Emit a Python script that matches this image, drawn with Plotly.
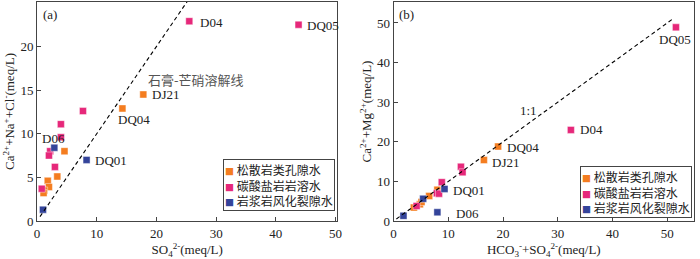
import plotly.graph_objects as go
from plotly.subplots import make_subplots

# ---------------- data ----------------
groups = ["松散岩类孔隙水", "碳酸盐岩岩溶水", "岩浆岩风化裂隙水"]
colors = ["#F47D20", "#E6287A", "#34449A"]

# panel (a): SO4 vs Ca+Na+Cl
a_so4 = [
    [4.6, 3.4, 1.8, 2.0, 1.2, 1.1, 14.3, 17.8],
    [7.7, 4.0, 4.0, 2.2, 2.0, 3.0, 0.8, 25.5, 43.8],
    [2.9, 8.3, 1.0],
]
a_cnc = [
    [8.0, 5.1, 4.6, 3.9, 3.5, 3.2, 12.9, 14.5],
    [12.6, 11.1, 9.6, 8.0, 7.5, 6.2, 3.7, 22.9, 22.5],
    [8.4, 7.0, 1.3],
]

# panel (b): HCO3+SO4 vs Ca+Mg
b_hs = [
    [3.7, 4.8, 5.1, 6.5, 8.0, 16.5, 19.1],
    [4.2, 7.9, 8.3, 8.8, 12.3, 12.6, 32.4, 51.6],
    [1.8, 5.4, 9.3, 8.0],
]
b_cm = [
    [3.4, 4.2, 4.8, 6.3, 7.9, 15.4, 18.8],
    [3.8, 7.0, 6.9, 9.8, 13.7, 12.3, 23.0, 48.9],
    [1.3, 5.6, 8.1, 2.2],
]

line_a = [0.5, 25.6]
line_b = [0.5, 51.3]

a_labels = ["D04", "DQ05", "DJ21", "DQ04", "D06", "DQ01"]
a_lab_x = [26.9, 44.8, 19.0, 16.3, 2.7, 9.4]
a_lab_y = [22.75, 22.4, 14.5, 11.65, 9.4, 6.95]
a_lab_anchor = ["left", "left", "left", "center", "center", "left"]

b_labels = ["DQ05", "D04", "DQ04", "DJ21", "DQ01", "D06"]
b_lab_x = [51.4, 33.7, 20.4, 17.7, 10.45, 11.0]
b_lab_y = [45.9, 23.0, 18.5, 14.7, 7.7, 1.9]
b_lab_anchor = ["center", "left", "left", "left", "left", "left"]

# ---------------- figure ----------------
SERIF = "Liberation Serif, Times New Roman, serif"

fig = make_subplots(rows=1, cols=2, horizontal_spacing=0.0856)

for i, g in enumerate(groups):
    fig.add_trace(go.Scatter(
        x=a_so4[i], y=a_cnc[i], mode="markers", name=g, showlegend=False,
        marker=dict(symbol="square", size=7, color=colors[i],
                    line=dict(width=0.6, color="rgba(255,255,255,0.7)")),
    ), row=1, col=1)
for i, g in enumerate(groups):
    fig.add_trace(go.Scatter(
        x=b_hs[i], y=b_cm[i], mode="markers", name=g, showlegend=False,
        marker=dict(symbol="square", size=7, color=colors[i],
                    line=dict(width=0.6, color="rgba(255,255,255,0.7)")),
    ), row=1, col=2)

fig.add_trace(go.Scatter(x=line_a, y=line_a, mode="lines", showlegend=False,
                         line=dict(color="black", width=1.1, dash="4px,3px")), row=1, col=1)
fig.add_trace(go.Scatter(x=line_b, y=line_b, mode="lines", showlegend=False,
                         line=dict(color="black", width=1.1, dash="4px,3px")), row=1, col=2)

ann = []
for t, x, y, a in zip(a_labels, a_lab_x, a_lab_y, a_lab_anchor):
    ann.append(dict(x=x, y=y, xref="x", yref="y", text=t, showarrow=False,
                    xanchor=a, yanchor="middle", font=dict(family=SERIF, size=13, color="#222")))
for t, x, y, a in zip(b_labels, b_lab_x, b_lab_y, b_lab_anchor):
    ann.append(dict(x=x, y=y, xref="x2", yref="y2", text=t, showarrow=False,
                    xanchor=a, yanchor="middle", font=dict(family=SERIF, size=13, color="#222")))
ann.append(dict(x=18.2, y=16.2, xref="x", yref="y", text="石膏-芒硝溶解线", showarrow=False,
                xanchor="left", yanchor="middle", font=dict(family="Noto Sans CJK SC", size=13, color="#555")))
ann.append(dict(x=24.7, y=28.0, xref="x2", yref="y2", text="1:1", showarrow=False,
                xanchor="center", yanchor="middle", font=dict(family=SERIF, size=13, color="#222")))
ann.append(dict(x=2.1, y=23.7, xref="x", yref="y", text="(a)", showarrow=False,
                xanchor="center", yanchor="middle", font=dict(family=SERIF, size=13, color="#222")))
ann.append(dict(x=2.4, y=52.1, xref="x2", yref="y2", text="(b)", showarrow=False,
                xanchor="center", yanchor="middle", font=dict(family=SERIF, size=13, color="#222")))

# compact legend boxes (one per panel), built from the group names and colours
legend_text = "<br>".join(
    f"<span style='color:{c};font-size:9px'>■</span> {g}" for g, c in zip(groups, colors)
)
for xr, yr, yy in [("x domain", "y domain", 0.044), ("x2 domain", "y2 domain", 0.012)]:
    ann.append(dict(x=0.9934, y=yy, xref=xr, yref=yr, text=legend_text, showarrow=False,
                    xanchor="right", yanchor="bottom", align="left",
                    bgcolor="white", bordercolor="#444", borderwidth=1, borderpad=1,
                    font=dict(family="Noto Sans CJK SC", size=12, color="#222")))

axis_common = dict(showgrid=False, zeroline=False, showline=True, linecolor="#444",
                   linewidth=1, mirror=True, ticks="inside", ticklen=4, tickcolor="#444",
                   tickfont=dict(family=SERIF, size=13, color="#222"))

fig.update_xaxes(axis_common)
fig.update_yaxes(axis_common)

fig.update_xaxes(range=[0, 50.3], tickvals=[0, 10, 20, 30, 40, 50],
                 title=dict(text="SO<sub>4</sub><sup>2-</sup>(meq/L)", standoff=4,
                            font=dict(family=SERIF, size=13, color="#222")), row=1, col=1)
fig.update_yaxes(range=[0, 25.1], tickvals=[0, 5, 10, 15, 20, 25],
                 title=dict(text="Ca<sup>2+</sup>+Na<sup>+</sup>+Cl<sup>-</sup>(meq/L)", standoff=2,
                            font=dict(family=SERIF, size=13, color="#222")), row=1, col=1)
fig.update_xaxes(range=[0, 54.9], tickvals=[0, 10, 20, 30, 40, 50],
                 title=dict(text="HCO<sub>3</sub><sup>-</sup>+SO<sub>4</sub><sup>2-</sup>(meq/L)", standoff=4,
                            font=dict(family=SERIF, size=13, color="#222")), row=1, col=2)
fig.update_yaxes(range=[0, 55.3], tickvals=[0, 10, 20, 30, 40, 50],
                 title=dict(text="Ca<sup>2+</sup>+Mg<sup>2+</sup>(meq/L)", standoff=2,
                            font=dict(family=SERIF, size=13, color="#222")), row=1, col=2)

fig.update_layout(
    width=700, height=259,
    margin=dict(l=37, r=1, t=1, b=38),
    paper_bgcolor="white", plot_bgcolor="white",
    showlegend=False,
    annotations=ann,
)

fig.write_html("out.html", config={"displayModeBar": False},
               post_script="document.body.style.margin='0px';")
